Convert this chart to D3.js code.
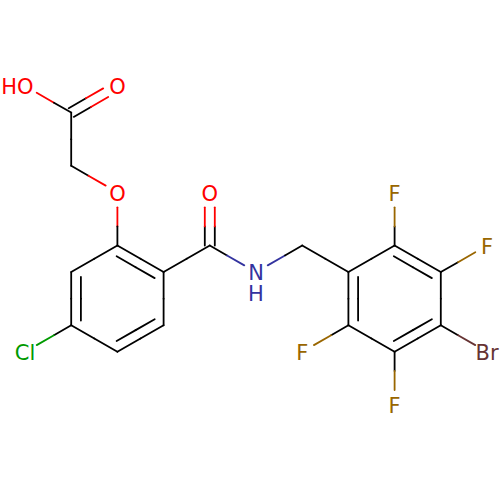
<!DOCTYPE html>
<html>
<head>
<meta charset="utf-8">
<script src="https://d3js.org/d3.v7.min.js"></script>
<style>
  html, body { margin: 0; padding: 0; background: #fff; }
  svg { display: block; }
</style>
</head>
<body>
<div id="chart"></div>
<script>
// 1: MOLECULE DATA (atom positions are lattice columns/rows)
const atomNames = ["OH", "O1", "C1", "C2", "O2", "C3", "C4", "C5", "C6", "C7", "C8", "Cl",
    "C9", "O3", "N", "C10", "C11", "C12", "C13", "C14", "C15", "C16", "F1", "F2", "Br", "F3", "F4"];
const atomCols = [0, 2, 1, 1, 2, 2, 1, 1, 2, 3, 3, 0, 4, 4, 5, 6, 7, 8, 9, 9, 8, 7, 8, 10, 10, 8, 6];
const atomRows = [0, 0, 1, 3, 4, 6, 7, 9, 10, 9, 7, 10, 6, 4, 7, 6, 7, 6, 7, 9, 10, 9, 4, 6, 10, 12, 10];
const atomKinds = ["O", "O", "C", "C", "O", "C", "C", "C", "C", "C", "C", "Cl",
    "C", "O", "N", "C", "C", "C", "C", "C", "C", "C", "F", "F", "Br", "F", "F"];

const singleBonds = [["OH", "C1"], ["C1", "C2"], ["C2", "O2"], ["O2", "C3"], ["C3", "C4"], ["C5", "C6"],
    ["C7", "C8"], ["C5", "Cl"], ["C8", "C9"], ["C9", "N"], ["N", "C10"], ["C10", "C11"],
    ["C11", "C12"], ["C13", "C14"], ["C15", "C16"], ["C12", "F1"], ["C13", "F2"], ["C14", "Br"],
    ["C15", "F3"], ["C16", "F4"]];
const outerDoubleBonds = [["C1", "O1"], ["C9", "O3"]];
const ringDoubleBonds = [["C3", "C8"], ["C4", "C5"], ["C6", "C7"], ["C11", "C16"], ["C12", "C13"], ["C14", "C15"]];
const ringA = ["C3", "C4", "C5", "C6", "C7", "C8"];
const ringB = ["C11", "C12", "C13", "C14", "C15", "C16"];

const labelAtoms = ["OH", "O1", "O2", "O3", "Cl", "N", "F1", "F2", "Br", "F3", "F4"];
const labelTexts = ["HO", "O", "O", "O", "Cl", "N", "F", "F", "Br", "F", "F"];

const kindColors = { C: "#000000", O: "#ff0000", N: "#33339f", F: "#996600", Cl: "#009a00", Br: "#663333" };

// 2: SCALES
const width = 500;
const height = 500;
const xScale = d3.scaleLinear().domain([0, 10]).range([25, 487]);
const yScale = d3.scaleLinear().domain([0, 12]).range([86, 405]);

const svg = d3.select("#chart")
    .append("svg")
    .attr("width", width)
    .attr("height", height);

svg.append("rect")
    .attr("width", width)
    .attr("height", height)
    .attr("fill", "#fff");

const atoms = new Map(atomNames.map((name, i) => [name, {
    name: name,
    kind: atomKinds[i],
    x: xScale(atomCols[i]),
    y: yScale(atomRows[i])
}]));

function ringCentre(ring) {
    return {
        x: d3.mean(ring, n => atoms.get(n).x),
        y: d3.mean(ring, n => atoms.get(n).y)
    };
}
const centres = [ringCentre(ringA), ringCentre(ringB)];

// bond half colours follow the atom at that end, labelled atoms leave a gap
function gapFor(atom, other) {
    if (atom.kind === "C") return 0;
    return Math.abs(atom.x - other.x) < 1 ? 15 : 13.5;
}

const segments = [];
function addStroke(a, b, offX, offY, shorten) {
    const dx = b.x - a.x, dy = b.y - a.y;
    const len = Math.hypot(dx, dy);
    const ux = dx / len, uy = dy / len;
    const startGap = gapFor(a, b) + shorten;
    const endGap = gapFor(b, a) + shorten;
    const p0 = { x: a.x + ux * startGap + offX, y: a.y + uy * startGap + offY };
    const p1 = { x: b.x - ux * endGap + offX, y: b.y - uy * endGap + offY };
    const mid = { x: (p0.x + p1.x) / 2, y: (p0.y + p1.y) / 2 };
    segments.push({ from: p0, to: mid, color: kindColors[a.kind] });
    segments.push({ from: mid, to: p1, color: kindColors[b.kind] });
}

singleBonds.forEach(([a, b]) => addStroke(atoms.get(a), atoms.get(b), 0, 0, 0));

outerDoubleBonds.forEach(([a, b]) => {
    const p = atoms.get(a), q = atoms.get(b);
    const len = Math.hypot(q.x - p.x, q.y - p.y);
    const nx = -(q.y - p.y) / len * 5, ny = (q.x - p.x) / len * 5;
    addStroke(p, q, nx, ny, 0);
    addStroke(p, q, -nx, -ny, 0);
});

ringDoubleBonds.forEach(([a, b]) => {
    const p = atoms.get(a), q = atoms.get(b);
    const len = Math.hypot(q.x - p.x, q.y - p.y);
    let nx = -(q.y - p.y) / len, ny = (q.x - p.x) / len;
    const c = ringA.includes(a) ? centres[0] : centres[1];
    if ((c.x - p.x) * nx + (c.y - p.y) * ny < 0) { nx = -nx; ny = -ny; }
    addStroke(p, q, 0, 0, 0);
    addStroke(p, q, nx * 9.7, ny * 9.7, 4.7);
});

// 3: DRAW BONDS
svg.append("g")
    .selectAll("line")
    .data(segments)
    .enter()
    .append("line")
    .attr("x1", d => d.from.x)
    .attr("y1", d => d.from.y)
    .attr("x2", d => d.to.x)
    .attr("y2", d => d.to.y)
    .attr("stroke", d => d.color)
    .attr("stroke-width", 1.8)
    .attr("stroke-linecap", "round");

// 4: DRAW ATOM LABELS
const labels = svg.append("g")
    .style("font-family", "'DejaVu Sans', sans-serif")
    .style("font-size", "21px");

labels.selectAll("text")
    .data(labelAtoms.map((name, i) => ({ atom: atoms.get(name), text: labelTexts[i] })))
    .enter()
    .append("text")
    .attr("x", d => d.text === "HO" ? d.atom.x + 8.5 : d.atom.x)
    .attr("y", d => d.atom.y + 8.3)
    .attr("text-anchor", d => d.text === "HO" ? "end" : "middle")
    .attr("fill", d => kindColors[d.atom.kind])
    .text(d => d.text);

// the H of the amide sits under its N
labels.append("text")
    .attr("x", atoms.get("N").x)
    .attr("y", atoms.get("N").y + 29)
    .attr("text-anchor", "middle")
    .attr("fill", kindColors.N)
    .text("H");
</script>
</body>
</html>
